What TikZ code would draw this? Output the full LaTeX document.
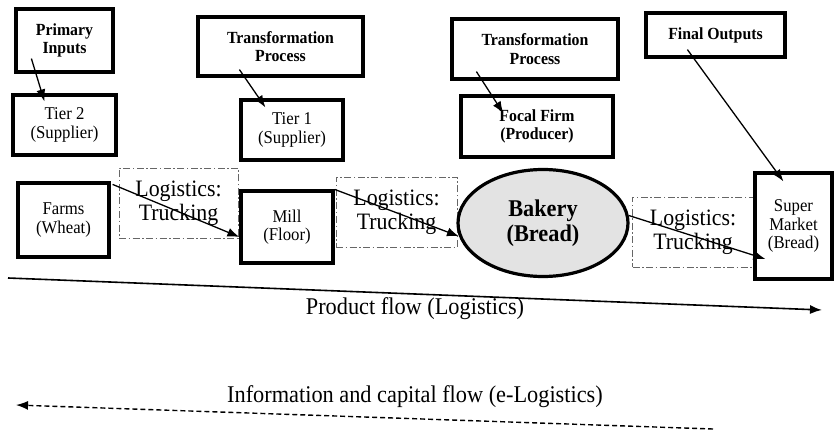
\documentclass[tikz,border=0pt]{standalone}
\usepackage{fontspec}
\setmainfont{Liberation Serif}[FakeStretch=0.93]
\usetikzlibrary{arrows.meta,shapes}

\begin{document}
\begin{tikzpicture}[x=10pt,y=10pt,
                solidbox/.style={draw, line width=3.2pt, align=center, inner sep=0pt, font=\fontsize{18}{18.5}\selectfont},
                headbox/.style={solidbox, font=\bfseries\fontsize{17}{18.5}\selectfont},
                truckbox/.style={draw=black!60, line width=0.8pt, dash pattern=on 7pt off 2.5pt on 1.5pt off 2.5pt, align=center, inner sep=0pt, font=\fontsize{23.5}{24}\selectfont},
                flowtext/.style={inner sep=0pt, font=\fontsize{24}{24}\selectfont},
                arr/.style={-{Latex[length=12pt,width=9pt]}, line width=1.3pt}]
                \useasboundingbox (0,0) rectangle (83.4,-43.0);
                \node [headbox, minimum width=97pt, minimum height=63pt] (prim) at (6.45,-4.05) {Primary\\Inputs};
                \node [solidbox, minimum width=103pt, minimum height=60pt] (tiertwo) at (6.45,-12.5) {Tier 2\\(Supplier)};
                \node [headbox, minimum width=165pt, minimum height=59pt] (transone) at (28.05,-4.65) {Transformation\\Process};
                \node [solidbox, minimum width=102pt, minimum height=60pt] (tierone) at (29.2,-13.0) {Tier 1\\(Supplier)};
                \node [headbox, minimum width=166pt, minimum height=60pt] (transtwo) at (53.5,-4.9) {Transformation\\Process};
                \node [headbox, minimum width=152pt, minimum height=61pt] (focal) at (53.7,-12.65) {Focal Firm\\(Producer)};
                \node [headbox, minimum width=139pt, minimum height=44pt] (final) at (71.55,-3.5) {Final Outputs};
                \node [solidbox, minimum width=91pt, minimum height=74pt] (farms) at (6.35,-22.0) {Farms\\(Wheat)};
                \node [truckbox, minimum width=119pt, minimum height=70pt] (logone) at (17.85,-20.3) {Logistics:\\Trucking};
                \node [solidbox, minimum width=92pt, minimum height=72pt] (mill) at (28.7,-22.7) {Mill\\(Floor)};
                \node [truckbox, minimum width=121pt, minimum height=70pt] (logtwo) at (39.65,-21.2) {Logistics:\\Trucking};
                \node [ellipse, draw, line width=3.2pt, fill=black!11, inner sep=0pt, minimum width=170pt, minimum height=107pt, align=center, font=\bfseries\fontsize{24}{25}\selectfont] (bakery) at (54.3,-22.3) {Bakery\\(Bread)};
                \node [truckbox, minimum width=121pt, minimum height=70pt] (logthree) at (69.3,-23.2) {Logistics:\\Trucking};
                \node [solidbox, minimum width=77pt, minimum height=106pt] (super) at (79.35,-22.6) {Super\\Market\\(Bread)};
                \draw [arr] ([shift={(1.7,1.5)}]prim.south west) -- ([shift={(3.3,-0.8)}]tiertwo.north west);
                \draw [arr] ([shift={(4.3,0.8)}]transone.south west) -- ([shift={(2.6,-0.9)}]tierone.north west);
                \draw [arr] ([shift={(2.6,0.9)}]transtwo.south west) -- ([shift={(4.4,-1.9)}]focal.north west);
                \draw [arr] ([shift={(4.3,0.9)}]final.south west) -- ([shift={(3.0,-1.0)}]super.north west);
                \draw [arr] ([shift={(0.2,-0.3)}]farms.north east) -- ([yshift=-10pt]mill.west);
                \draw [arr] (mill.north east) -- (bakery.189);
                \draw [arr] (bakery.5) -- ([shift={(1.2,-3.3)}]super.west);
                \coordinate (pstart) at (0.8,-27.8);
                \coordinate (pend) at (82.2,-31.0);
                \draw [arr, line width=1.6pt] (pstart) -- (pend);
                \node [flowtext] (plabel) at (41.5,-30.9) {Product flow (Logistics)};
                \coordinate (istart) at (71.3,-42.9);
                \coordinate (iend) at (1.6,-40.5);
                \draw [arr, line width=1.4pt, dash pattern=on 5pt off 3pt] (istart) -- (iend);
                \node [flowtext] (ilabel) at (41.5,-39.7) {Information and capital flow (e-Logistics)};
            \end{tikzpicture}
\end{document}
